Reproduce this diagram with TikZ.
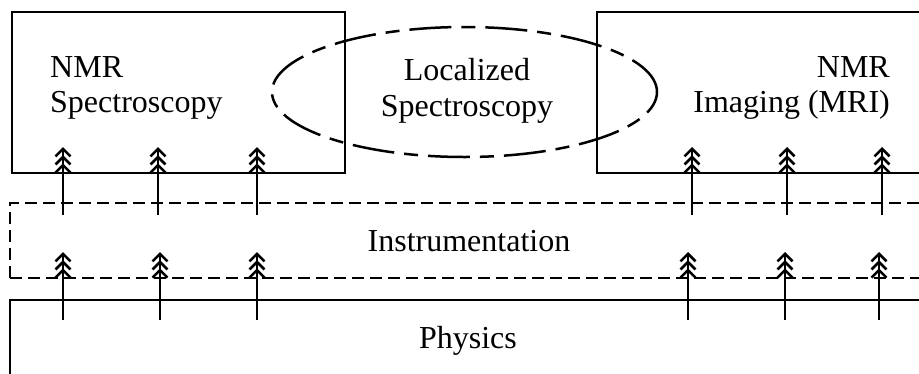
\documentclass[tikz,border=0pt]{standalone}
\usepackage{fontspec}
\setmainfont{Liberation Serif}
\usetikzlibrary{arrows.meta,shapes.geometric}

\tikzset{
  solidbox/.style={draw, rectangle, line width=2.8pt, inner sep=0pt},
  dashbox/.style={draw, rectangle, line width=2.8pt, inner sep=0pt,
    dash pattern=on 12pt off 6pt},
  overlapzone/.style={draw, ellipse, line width=2.5pt, inner sep=0pt,
    dash pattern=on 42pt off 10pt on 14pt off 10pt},
  lbl/.style={inner sep=0pt, font=\fontsize{32}{35}\selectfont},
  tree/.style={line width=2.6pt,
    -{Straight Barb[length=7.5pt,width=15pt,sep=-2.5pt]
      Straight Barb[length=7.5pt,width=15pt,sep=-2.5pt]
      Straight Barb[length=7.5pt,width=15pt]}},
}

\begin{document}
\begin{tikzpicture}[x=1pt, y=-1pt]
  \useasboundingbox (0,0) rectangle (919,373);
  \clip (0,0) rectangle (919,373);

  % application boxes on top
  \node[solidbox, minimum width=333pt, minimum height=161pt] (nmrs) at (178.5,92.5) {};
  \node[solidbox, minimum width=340pt, minimum height=161pt] (mri) at (767,92.5) {};

  % instrumentation layer (dashed) and physics layer
  \node[dashbox, minimum width=930pt, minimum height=75pt] (instr) at (475,240.5) {};
  \node[solidbox, minimum width=930pt, minimum height=100pt] (phys) at (475,350) {};

  % overlap region between the two application boxes
  \node[overlapzone, minimum width=385pt, minimum height=130pt] (loc) at (464.5,92) {};

  % labels
  \node[lbl, anchor=base west] (tnmr1) at (50,77) {NMR};
  \node[lbl, anchor=base west] (tnmr2) at (50,112) {Spectroscopy};
  \node[lbl, anchor=base east] (tmri1) at (890,77) {NMR};
  \node[lbl, anchor=base east] (tmri2) at (890,112) {Imaging (MRI)};
  \node[lbl, anchor=base] (tloc1) at (467,80) {Localized};
  \node[lbl, anchor=base] (tloc2) at (467,116) {Spectroscopy};
  \node[lbl, anchor=base] (tinstr) at (469,251) {Instrumentation};
  \node[lbl, anchor=base] (tphys) at (468,348) {Physics};

  % arrow anchor points: physics -> instrumentation
  \foreach \i/\x in {1/63,2/160,3/257,4/688,5/785,6/879} {
    \coordinate (p\i) at (\x,320);
    \coordinate (i\i) at (\x,252);
  }
  % arrow anchor points: instrumentation -> applications
  \foreach \i/\x in {1/63,2/158,3/257,4/692,5/787,6/882} {
    \coordinate (j\i) at (\x,215);
    \coordinate (t\i) at (\x,147);
  }

  \foreach \i in {1,...,6} {
    \draw[tree] (p\i) -- (i\i);
    \draw[tree] (j\i) -- (t\i);
  }
\end{tikzpicture}
\end{document}
